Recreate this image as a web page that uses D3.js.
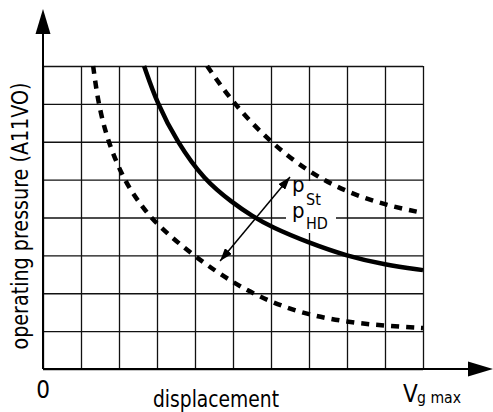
<!DOCTYPE html>
<html>
<head>
<meta charset="utf-8">
<script src="https://cdn.jsdelivr.net/npm/d3@7"></script>
<style>
  body { margin: 0; background: #fff; }
  text { font-family: "Liberation Sans Narrow", "DejaVu Sans Condensed", "Liberation Sans", sans-serif; fill: #000; }
</style>
</head>
<body>
<div id="chart"></div>
<script>
// curve points (x = displacement grid units, y = pressure grid units)
var curveHD = [[2.66, 8.0], [3.0, 7.02], [3.53, 5.99], [4.24, 4.99], [5.0, 4.38], [5.5, 4.04],
               [6.0, 3.75], [7.0, 3.33], [8.0, 2.98], [9.0, 2.75], [10.0, 2.61]];
var curveUpper = [[4.32, 8.0], [5.0, 7.02], [5.97, 5.99], [7.03, 5.17], [8.0, 4.67], [9.0, 4.33], [10.0, 4.12]];
var curveLower = [[1.32, 8.0], [1.45, 7.02], [1.71, 5.99], [2.13, 4.99], [2.55, 4.36], [3.0, 3.80],
                  [4.0, 2.96], [5.0, 2.27], [5.97, 1.77], [6.97, 1.43], [8.0, 1.24], [9.0, 1.14], [10.0, 1.08]];
var arrowEnds = [[4.66, 2.85], [6.5, 5.07]];
var xGrid = d3.range(0, 11);   // 10 columns
var yGrid = d3.range(0, 9);    // 8 rows

var svgW = 493, svgH = 412;
var x0 = 43, x1 = 423, y0 = 369, y1 = 66;

var xScale = d3.scaleLinear().domain([0, 10]).range([x0, x1]);
var yScale = d3.scaleLinear().domain([0, 8]).range([y0, y1]);

var svg = d3.select("#chart").append("svg")
    .attr("width", svgW)
    .attr("height", svgH);

var defs = svg.append("defs");
defs.append("marker")
    .attr("id", "head")
    .attr("viewBox", "0 0 13 9")
    .attr("refX", 13).attr("refY", 4.5)
    .attr("markerWidth", 13).attr("markerHeight", 9)
    .attr("markerUnits", "userSpaceOnUse")
    .attr("orient", "auto-start-reverse")
    .append("path").attr("d", "M0,0 L13,4.5 L0,9 Z").attr("fill", "#000");

// grid lines, drawn with the axes themselves
svg.append("g")
    .attr("transform", "translate(0," + y0 + ")")
    .call(d3.axisBottom(xScale).tickValues(xGrid).tickSize(y1 - y0).tickFormat(""))
    .call(function (g) { g.select(".domain").remove(); })
    .selectAll("line").attr("stroke", "#111").attr("stroke-width", 1.3);

svg.append("g")
    .attr("transform", "translate(" + x0 + ",0)")
    .call(d3.axisLeft(yScale).tickValues(yGrid).tickSize(x0 - x1).tickFormat(""))
    .call(function (g) { g.select(".domain").remove(); })
    .selectAll("line").attr("stroke", "#111").attr("stroke-width", 1.3);

// white patch behind the p labels
svg.append("rect").attr("x", 286).attr("y", 181).attr("width", 50).attr("height", 52).attr("fill", "#fff");

// main axes with arrows
svg.append("line").attr("x1", x0).attr("y1", y0).attr("x2", x0).attr("y2", 30)
    .attr("stroke", "#000").attr("stroke-width", 2);
svg.append("path").attr("d", "M" + (x0 - 7.5) + ",34 L" + x0 + ",9 L" + (x0 + 7.5) + ",34 Z").attr("fill", "#000");
svg.append("line").attr("x1", x0).attr("y1", y0).attr("x2", 470).attr("y2", y0)
    .attr("stroke", "#000").attr("stroke-width", 2);
svg.append("path").attr("d", "M468," + (y0 - 7.5) + " L493," + y0 + " L468," + (y0 + 7.5) + " Z").attr("fill", "#000");

// curves
var line = d3.line()
    .x(function (d) { return xScale(d[0]); })
    .y(function (d) { return yScale(d[1]); })
    .curve(d3.curveBasis);

svg.append("path").datum(curveLower).attr("d", line)
    .attr("fill", "none").attr("stroke", "#000").attr("stroke-width", 4.5).attr("stroke-dasharray", "8,7");
svg.append("path").datum(curveUpper).attr("d", line)
    .attr("fill", "none").attr("stroke", "#000").attr("stroke-width", 4.5).attr("stroke-dasharray", "8,7");
svg.append("path").datum(curveHD).attr("d", line)
    .attr("fill", "none").attr("stroke", "#000").attr("stroke-width", 4.5);

// double arrow between the limits
svg.append("line")
    .attr("x1", xScale(arrowEnds[0][0])).attr("y1", yScale(arrowEnds[0][1]))
    .attr("x2", xScale(arrowEnds[1][0])).attr("y2", yScale(arrowEnds[1][1]))
    .attr("stroke", "#000").attr("stroke-width", 1.5)
    .attr("marker-start", "url(#head)").attr("marker-end", "url(#head)");

// p labels
var pSt = svg.append("text").attr("x", 292).attr("y", 192).style("font-size", "22px");
pSt.append("tspan").text("p");
pSt.append("tspan").attr("x", 306).attr("y", 205).style("font-size", "16px").text("St");
var pHD = svg.append("text").attr("x", 292).attr("y", 218).style("font-size", "22px");
pHD.append("tspan").text("p");
pHD.append("tspan").attr("x", 306).attr("y", 229).style("font-size", "16px").text("HD");

// axis labels
svg.append("text").attr("x", 43).attr("y", 398).attr("text-anchor", "middle")
    .style("font-size", "24px").text("0");
svg.append("text").attr("x", 153).attr("y", 407)
    .attr("textLength", 126).attr("lengthAdjust", "spacingAndGlyphs")
    .style("font-size", "23px").text("displacement");
var vg = svg.append("text").attr("x", 403).attr("y", 402).style("font-size", "24px");
vg.append("tspan").text("V");
vg.append("tspan").attr("x", 417).attr("y", 403).style("font-size", "15px")
    .attr("textLength", 44).attr("lengthAdjust", "spacingAndGlyphs").text("g max");

svg.append("text")
    .attr("transform", "translate(28,216) rotate(-90)")
    .attr("text-anchor", "middle")
    .attr("textLength", 267).attr("lengthAdjust", "spacingAndGlyphs")
    .style("font-size", "23px")
    .text("operating pressure (A11VO)");
</script>
</body>
</html>
